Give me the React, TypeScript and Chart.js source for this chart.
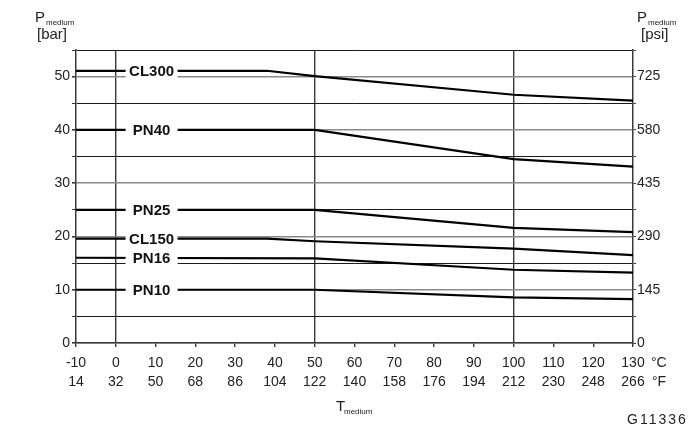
import React, { useEffect, useRef } from "react";
import { Chart, registerables } from "chart.js";

Chart.register(...registerables);

// Temperature ticks (°C) and matching Fahrenheit labels
const CELSIUS_TICKS = [-10, 0, 10, 20, 30, 40, 50, 60, 70, 80, 90, 100, 110, 120, 130];
const FAHRENHEIT_LABELS = ["14", "32", "50", "68", "86", "104", "122", "140", "158", "176", "194", "212", "230", "248", "266"];

// Pressure tick labels (bar -> psi)
const BAR_TICKS = [0, 10, 20, 30, 40, 50];
const PSI_LABELS = ["0", "145", "290", "435", "580", "725"];

// Series temperatures (°C)
const TEMP_CL = [-10, 38, 50, 100, 130];
const TEMP_PN = [-10, 50, 100, 130];

// Series pressures (bar)
const CL300 = [51.1, 51.1, 50.1, 46.6, 45.5];
const PN40 = [40, 40, 34.5, 33.1];
const PN25 = [25, 25, 21.6, 20.8];
const CL150 = [19.6, 19.6, 19.1, 17.7, 16.5];
const PN16 = [16, 15.9, 13.75, 13.2];
const PN10 = [10, 10, 8.55, 8.25];

const SERIES_NAMES = ["CL300", "PN40", "PN25", "CL150", "PN16", "PN10"];
const SERIES_TEMPS = [TEMP_CL, TEMP_PN, TEMP_PN, TEMP_CL, TEMP_PN, TEMP_PN];
const SERIES_VALUES = [CL300, PN40, PN25, CL150, PN16, PN10];

const LABEL_AT_C = 9;
const FONT = "'Liberation Sans', Arial, Helvetica, sans-serif";
const TEXT = "#222";
const TICK_LEN_X = 4;
const TICK_PAD_X = 6;
const X_LINE_H = 19.5;

const overlay = {
  id: "overlay",
  afterDatasetsDraw(chart: any) {
    const ctx = chart.ctx;
    const xs = chart.scales.x;
    const ys = chart.scales.y;
    ctx.save();
    ctx.font = `bold 15px ${FONT}`;
    ctx.textAlign = "center";
    ctx.textBaseline = "middle";
    SERIES_NAMES.forEach((name, i) => {
      const x = xs.getPixelForValue(LABEL_AT_C);
      const y = ys.getPixelForValue(SERIES_VALUES[i][0]);
      ctx.fillStyle = "#fff";
      ctx.fillRect(x - 26, y - 8, 52, 16);
      ctx.fillStyle = "#111";
      ctx.fillText(name, x, y + 1);
    });
    ctx.restore();
  },
  afterDraw(chart: any) {
    const ctx = chart.ctx;
    const xs = chart.scales.x;
    const y2 = chart.scales.y2;
    ctx.save();
    ctx.fillStyle = TEXT;
    ctx.textBaseline = "alphabetic";
    ctx.textAlign = "left";
    const big = `15px ${FONT}`;
    const small = `8px ${FONT}`;
    // left title
    ctx.font = big;
    ctx.fillText("P", 35, 22);
    ctx.font = small;
    ctx.fillText("medium", 46, 25);
    ctx.font = big;
    ctx.fillText("[bar]", 37, 39);
    // right title
    const rx = y2.left + 4;
    ctx.font = big;
    ctx.fillText("P", rx, 22);
    ctx.font = small;
    ctx.fillText("medium", rx + 11, 25);
    ctx.font = big;
    ctx.fillText("[psi]", rx + 4, 39);
    // bottom title
    ctx.font = big;
    ctx.fillText("T", 336, 411);
    ctx.font = small;
    ctx.fillText("medium", 344, 414);
    // units
    ctx.font = `14px ${FONT}`;
    ctx.textBaseline = "middle";
    const ux = xs.getPixelForValue(130) + 18;
    const y1 = xs.top + TICK_LEN_X + TICK_PAD_X + X_LINE_H / 2;
    ctx.fillText("°C", ux, y1);
    ctx.fillText("°F", ux + 1, y1 + X_LINE_H);
    // figure id
    ctx.textBaseline = "alphabetic";
    ctx.font = `14px ${FONT}`;
    (ctx as any).letterSpacing = "2px";
    ctx.fillText("G11336", 627, 424);
    ctx.restore();
  },
};

const gridColor = (c: any) => {
  const v = c.tick ? c.tick.value : 0;
  return v % 10 === 0 ? "#8a8a8a" : "#1a1a1a";
};
const gridWidth = (c: any) => {
  const v = c.tick ? c.tick.value : 0;
  return v % 10 === 0 ? 1.6 : 1;
};

export default function App() {
  const ref = useRef<HTMLCanvasElement>(null);
  useEffect(() => {
    if (!ref.current) return;
    const datasets = SERIES_NAMES.map((name, i) => ({
      label: name,
      data: SERIES_TEMPS[i].map((t, j) => ({ x: t, y: SERIES_VALUES[i][j] })),
      borderColor: "#000",
      borderWidth: 2.2,
      pointRadius: 0,
      fill: false,
      tension: 0,
    }));
    const chart = new Chart(ref.current, {
      type: "line",
      data: { datasets },
      plugins: [overlay],
      options: {
        animation: false,
        responsive: false,
        maintainAspectRatio: false,
        layout: { padding: { top: 50, left: 0, right: 0, bottom: 0 } },
        plugins: { legend: { display: false }, tooltip: { enabled: false }, title: { display: false } },
        scales: {
          x: {
            type: "linear",
            position: "bottom",
            min: -10,
            max: 130,
            afterBuildTicks: (s: any) => {
              s.ticks = CELSIUS_TICKS.map((v) => ({ value: v }));
            },
            afterFit: (s: any) => {
              s.height = 87;
            },
            ticks: {
              autoSkip: false,
              maxRotation: 0,
              padding: TICK_PAD_X,
              color: TEXT,
              font: { family: FONT, size: 14, lineHeight: X_LINE_H / 14 },
              callback: (_v: any, i: number) => [String(CELSIUS_TICKS[i]), FAHRENHEIT_LABELS[i]],
            },
            grid: {
              color: (c: any) => {
                const v = c.tick ? c.tick.value : 0;
                return v === 0 || v === 50 || v === 100 ? "#3a3a3a" : "rgba(0,0,0,0)";
              },
              lineWidth: 1.4,
              tickColor: "#3a3a3a",
              tickLength: TICK_LEN_X,
            },
            border: { display: true, color: "#3a3a3a", width: 1.5 },
          },
          y: {
            type: "linear",
            position: "left",
            min: 0,
            max: 55,
            afterFit: (s: any) => {
              s.width = 76;
            },
            ticks: {
              stepSize: 5,
              padding: 2,
              color: TEXT,
              font: { family: FONT, size: 14 },
              callback: (v: any) => {
                const idx = BAR_TICKS.indexOf(v);
                return idx >= 0 ? String(BAR_TICKS[idx]) : "";
              },
            },
            grid: {
              color: gridColor,
              lineWidth: gridWidth,
              tickColor: "#3a3a3a",
              tickLength: 4,
            },
            border: { display: true, color: "#3a3a3a", width: 1.5 },
          },
          y2: {
            type: "linear",
            position: "right",
            min: 0,
            max: 55,
            afterFit: (s: any) => {
              s.width = 63;
            },
            ticks: {
              stepSize: 5,
              padding: 1,
              color: TEXT,
              font: { family: FONT, size: 14 },
              callback: (v: any) => {
                const idx = BAR_TICKS.indexOf(v);
                return idx >= 0 ? PSI_LABELS[idx] : "";
              },
            },
            grid: {
              drawOnChartArea: false,
              tickColor: "#3a3a3a",
              tickLength: 3,
            },
            border: { display: true, color: "#3a3a3a", width: 1.5 },
          },
        },
      },
    });
    return () => chart.destroy();
  }, []);
  return (
    <div style={{ position: "fixed", left: 0, top: 0, width: 696, height: 430, background: "#fff" }}>
      <canvas ref={ref} width={696} height={430} style={{ width: 696, height: 430 }} />
    </div>
  );
}
